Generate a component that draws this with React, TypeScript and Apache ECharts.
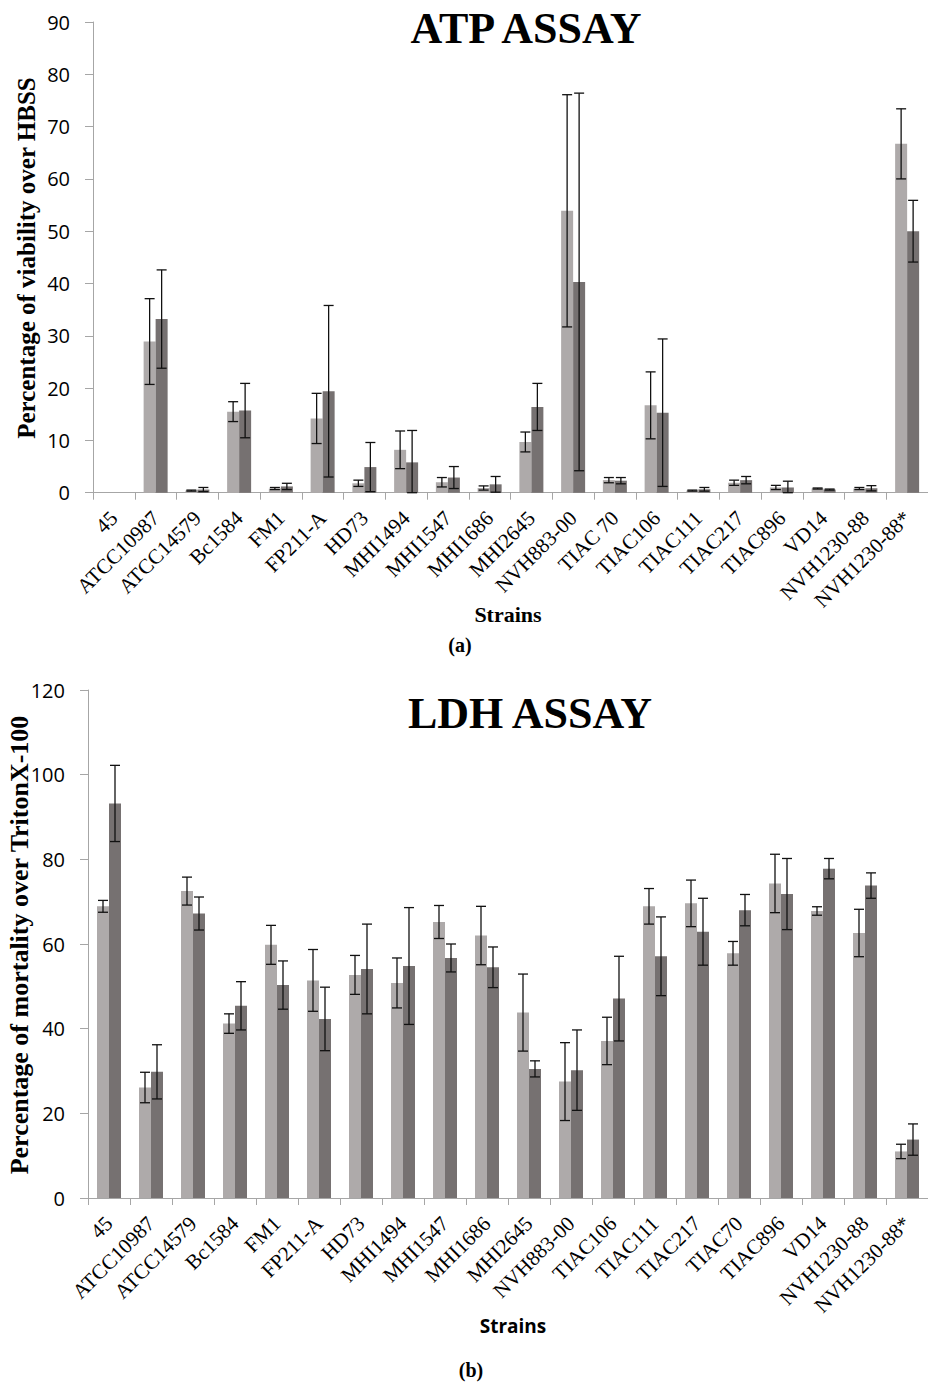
import React, { useEffect, useRef } from "react";
import * as echarts from "echarts";

const atpCategories = ["45", "ATCC10987", "ATCC14579", "Bc1584", "FM1", "FP211-A", "HD73", "MHI1494", "MHI1547", "MHI1686", "MHI2645", "NVH883-00", "TIAC 70", "TIAC106", "TIAC111", "TIAC217", "TIAC896", "VD14", "NVH1230-88", "NVH1230-88*"];
const atpLight = [0, 28.9, 0.4, 15.5, 0.8, 14.2, 1.8, 8.2, 2.0, 0.9, 9.7, 53.9, 2.4, 16.7, 0.4, 1.9, 1.0, 0.8, 0.8, 66.7];
const atpLightErr = [0, 8.2, 0.1, 1.9, 0.2, 4.8, 0.6, 3.6, 0.9, 0.4, 1.9, 22.2, 0.5, 6.4, 0.1, 0.5, 0.4, 0.1, 0.2, 6.7];
const atpDark = [0, 33.2, 0.6, 15.7, 1.2, 19.4, 4.9, 5.8, 2.9, 1.6, 16.4, 40.3, 2.3, 15.3, 0.65, 2.4, 1.0, 0.6, 0.85, 50.0];
const atpDarkErr = [0, 9.4, 0.4, 5.2, 0.6, 16.4, 4.7, 6.1, 2.1, 1.5, 4.5, 36.1, 0.6, 14.1, 0.35, 0.7, 1.2, 0.1, 0.5, 5.9];

const ldhCategories = ["45", "ATCC10987", "ATCC14579", "Bc1584", "FM1", "FP211-A", "HD73", "MHI1494", "MHI1547", "MHI1686", "MHI2645", "NVH883-00", "TIAC106", "TIAC111", "TIAC217", "TIAC70", "TIAC896", "VD14", "NVH1230-88", "NVH1230-88*"];
const ldhLight = [68.9, 26.1, 72.5, 41.2, 59.8, 51.4, 52.7, 50.8, 65.2, 62.0, 43.8, 27.5, 37.1, 68.9, 69.6, 57.8, 74.3, 67.8, 62.6, 11.0];
const ldhLightErr = [1.4, 3.6, 3.3, 2.3, 4.6, 7.3, 4.6, 5.9, 3.9, 6.9, 9.1, 9.2, 5.6, 4.2, 5.5, 2.8, 6.9, 1.0, 5.6, 1.7];
const ldhDark = [93.2, 29.8, 67.2, 45.4, 50.3, 42.3, 54.1, 54.8, 56.7, 54.5, 30.5, 30.2, 47.1, 57.1, 62.9, 68.0, 71.8, 77.8, 73.8, 13.8];
const ldhDarkErr = [9.0, 6.4, 3.9, 5.7, 5.7, 7.5, 10.6, 13.8, 3.3, 4.8, 1.9, 9.5, 10.0, 9.3, 7.9, 3.7, 8.4, 2.4, 3.0, 3.7];

const LIGHT = "#AEAAAA";
const DARK = "#767171";
const AXIS = "#a6a6a6";
const SERIF = "'Liberation Serif', 'DejaVu Serif', serif";
const SANS = "'Open Sans', 'Noto Sans', sans-serif";
const BAR_W = 12;

function errSeries(means: number[], errs: number[], offset: number, gi: number) {
  return {
    type: "custom",
    xAxisIndex: gi,
    yAxisIndex: gi,
    z: 5,
    data: means.map((m, i) => [i, m, errs[i]]),
    encode: { x: 0, y: 1 },
    renderItem: (params: any, api: any) => {
      const i = api.value(0);
      const m = api.value(1);
      const e = api.value(2);
      if (!(e > 0)) return null;
      const x = api.coord([i, m])[0] + offset;
      const yTop = api.coord([i, m + e])[1];
      const yBot = api.coord([i, Math.max(0, m - e)])[1];
      const c = 5;
      const st = { stroke: "#111", lineWidth: 1.3 };
      return {
        type: "group",
        children: [
          { type: "line", shape: { x1: x, y1: yTop, x2: x, y2: yBot }, style: st },
          { type: "line", shape: { x1: x - c, y1: yTop, x2: x + c, y2: yTop }, style: st },
          { type: "line", shape: { x1: x - c, y1: yBot, x2: x + c, y2: yBot }, style: st },
        ],
      };
    },
  };
}

function xAxisCfg(cats: string[], gi: number) {
  return {
    type: "category",
    gridIndex: gi,
    data: cats,
    axisLine: { show: true, lineStyle: { color: AXIS, width: 1 } },
    axisTick: { show: true, length: 7, lineStyle: { color: AXIS } },
    axisLabel: {
      interval: 0,
      rotate: 45,
      margin: 22,
      fontFamily: SERIF,
      fontSize: 21,
      color: "#000",
    },
    splitLine: { show: false },
  };
}

function yAxisCfg(max: number, interval: number, gi: number) {
  return {
    type: "value",
    gridIndex: gi,
    min: 0,
    max,
    interval,
    axisLine: { show: true, lineStyle: { color: AXIS, width: 1 } },
    axisTick: { show: true, length: 8, lineStyle: { color: AXIS } },
    axisLabel: { margin: 23, fontFamily: SANS, fontSize: 20, color: "#000" },
    splitLine: { show: false },
  };
}

function barSeries(data: number[], color: string, gi: number) {
  return {
    type: "bar",
    xAxisIndex: gi,
    yAxisIndex: gi,
    data,
    barWidth: BAR_W,
    barGap: "0%",
    itemStyle: { color },
  };
}

export default function App() {
  const ref = useRef<HTMLDivElement>(null);
  useEffect(() => {
    document.body.style.margin = "0";
    if (!ref.current) return;
    const chart = echarts.init(ref.current, null, { renderer: "svg" });
    chart.setOption({
      animation: false,
      backgroundColor: "#fff",
      grid: [
        { left: 93, top: 22, width: 842, height: 470.7 },
        { left: 88, top: 690, width: 846, height: 508 },
      ],
      xAxis: [xAxisCfg(atpCategories, 0), xAxisCfg(ldhCategories, 1)],
      yAxis: [yAxisCfg(90, 10, 0), yAxisCfg(120, 20, 1)],
      series: [
        barSeries(atpLight, LIGHT, 0),
        barSeries(atpDark, DARK, 0),
        errSeries(atpLight, atpLightErr, -BAR_W / 2, 0),
        errSeries(atpDark, atpDarkErr, BAR_W / 2, 0),
        barSeries(ldhLight, LIGHT, 1),
        barSeries(ldhDark, DARK, 1),
        errSeries(ldhLight, ldhLightErr, -BAR_W / 2, 1),
        errSeries(ldhDark, ldhDarkErr, BAR_W / 2, 1),
      ],
      graphic: [
        { type: "text", x: 526, y: 28, style: { text: "ATP ASSAY", font: `bold 44px ${SERIF}`, fill: "#000", align: "center", verticalAlign: "middle" } },
        { type: "text", x: 530, y: 713, style: { text: "LDH ASSAY", font: `bold 44px ${SERIF}`, fill: "#000", align: "center", verticalAlign: "middle" } },
        { type: "text", x: 26, y: 258, rotation: Math.PI / 2, style: { text: "Percentage of viability over HBSS", font: `bold 25px ${SERIF}`, fill: "#000", align: "center", verticalAlign: "middle" } },
        { type: "text", x: 19, y: 945, rotation: Math.PI / 2, style: { text: "Percentage of mortality over TritonX-100", font: `bold 26px ${SERIF}`, fill: "#000", align: "center", verticalAlign: "middle" } },
        { type: "text", x: 508, y: 614, style: { text: "Strains", font: `bold 22px ${SERIF}`, fill: "#000", align: "center", verticalAlign: "middle" } },
        { type: "text", x: 460, y: 645, style: { text: "(a)", font: `bold 20px ${SERIF}`, fill: "#000", align: "center", verticalAlign: "middle" } },
        { type: "text", x: 513, y: 1326, style: { text: "Strains", font: `bold 19px ${SANS}`, fill: "#000", align: "center", verticalAlign: "middle" } },
        { type: "text", x: 471, y: 1370, style: { text: "(b)", font: `bold 20px ${SERIF}`, fill: "#000", align: "center", verticalAlign: "middle" } },
      ],
    });
    return () => chart.dispose();
  }, []);
  return <div ref={ref} style={{ width: 928, height: 1383 }} />;
}
